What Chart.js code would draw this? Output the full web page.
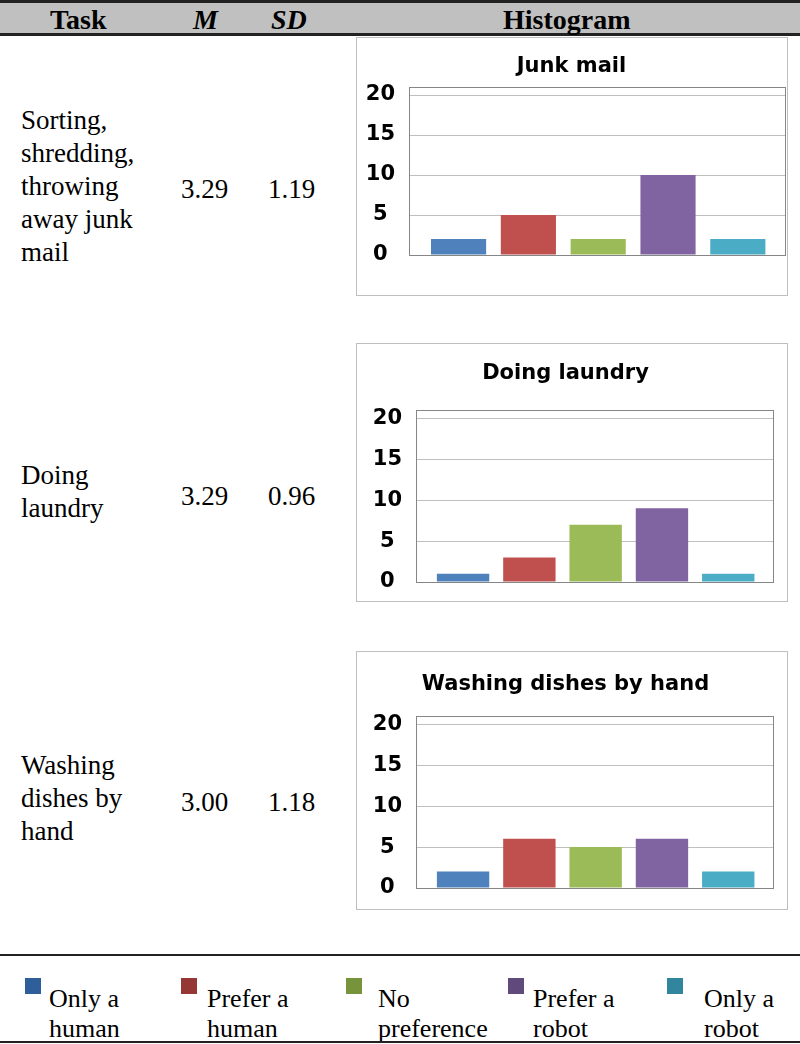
<!DOCTYPE html>
<html>
<head>
<meta charset="utf-8">
<script src="https://cdn.jsdelivr.net/npm/chart.js@4"></script>
<style>
  html, body { margin: 0; padding: 0; background: #fff; }
  body { width: 800px; height: 1044px; position: relative; overflow: hidden;
         font-family: 'Liberation Serif', 'Times New Roman', serif; color: #000; }
  .abs { position: absolute; white-space: nowrap; }
  .head { position: absolute; left: 0; top: 0; width: 800px; height: 30px;
          background: #c0c0c0; border-top: 3px solid #222; border-bottom: 3px solid #222; }
  .head span { position: absolute; top: 2px; font-size: 28px; line-height: 30px; font-weight: bold; }
  .cell { font-size: 27px; line-height: 33px; }
  .frame { position: absolute; left: 356px; width: 430px; height: 257px; border: 1px solid #bfbfbf; }
  .frame canvas { display: block; }
  .rule { position: absolute; left: 0; width: 800px; height: 0; border-top: 2px solid #222; }
  .key { position: absolute; width: 16px; height: 16px; top: 978px; }
  .keytext { position: absolute; top: 984px; font-size: 26px; line-height: 30px; white-space: nowrap; }
</style>
</head>
<body>
<div class="head">
  <span style="left:50px">Task</span>
  <span style="left:193px;font-style:italic">M</span>
  <span style="left:271px;font-style:italic">SD</span>
  <span style="left:503px">Histogram</span>
</div>

<div id="rows"></div>

<div class="frame" style="top:37px"><canvas id="c0" width="430" height="257"></canvas></div>
<div class="frame" style="top:343px"><canvas id="c1" width="430" height="257"></canvas></div>
<div class="frame" style="top:651px"><canvas id="c2" width="430" height="257"></canvas></div>

<div class="rule" style="top:954px"></div>
<div id="legend"></div>
<div class="rule" style="top:1041px"></div>

<script>
// ---- data ---------------------------------------------------------------
const categories = ['Only a human', 'Prefer a human', 'No preference', 'Prefer a robot', 'Only a robot'];
const legendLines = [['Only a', 'human'], ['Prefer a', 'human'], ['No', 'preference'], ['Prefer a', 'robot'], ['Only a', 'robot']];
const taskLines = [
  ['Sorting,', 'shredding,', 'throwing', 'away junk', 'mail'],
  ['Doing', 'laundry'],
  ['Washing', 'dishes by', 'hand'],
];
const chartTitles = ['Junk mail', 'Doing laundry', 'Washing dishes by hand'];
const means = ['3.29', '3.29', '3.00'];
const sds = ['1.19', '0.96', '1.18'];
const junkMail = [2, 5, 2, 10, 2];
const doingLaundry = [1, 3, 7, 9, 1];
const washingDishes = [2, 6, 5, 6, 2];
const yTicks = [0, 5, 10, 15, 20];
const yMax = 21;
// Excel leaves extra room either side of the five bars
const xMin = -0.71;
const xMax = 4.69;

// ---- styling ------------------------------------------------------------
const barColors = ['#4f81bd', '#c0504d', '#9bbb59', '#8064a2', '#4bacc6'];
const keyColors = ['#2f5f9b', '#953735', '#77933c', '#604a7b', '#31859c'];
const chartFont = "'DejaVu Sans', 'Open Sans', sans-serif";

// per-panel layout: plot area edges inside the canvas, title centre
const panels = [
  { values: junkMail, plotLeft: 52, plotTop: 49, padRight: 1, padBottom: 40, titleMid: 29 },
  { values: doingLaundry, plotLeft: 59, plotTop: 66, padRight: 13, padBottom: 19, titleMid: 30 },
  { values: washingDishes, plotLeft: 59, plotTop: 64, padRight: 13, padBottom: 21, titleMid: 33 },
];
const rowTextTop = [104, 459, 749];
const rowNumTop = [173, 480, 786];
const keyLeft = [25, 181, 346, 508, 667];
const keyTextLeft = [49, 207, 378, 533, 704];

// ---- table text ---------------------------------------------------------
const rows = document.getElementById('rows');
taskLines.forEach((lines, i) => {
  rows.insertAdjacentHTML('beforeend',
    `<div class="abs cell" style="left:21px;top:${rowTextTop[i]}px">${lines.join('<br>')}</div>` +
    `<div class="abs cell" style="left:181px;top:${rowNumTop[i]}px">${means[i]}</div>` +
    `<div class="abs cell" style="left:268px;top:${rowNumTop[i]}px">${sds[i]}</div>`);
});

const legend = document.getElementById('legend');
categories.forEach((c, i) => {
  legend.insertAdjacentHTML('beforeend',
    `<div class="key" style="left:${keyLeft[i]}px;background:${keyColors[i]}" title="${c}"></div>` +
    `<div class="keytext" style="left:${keyTextLeft[i]}px">${legendLines[i].join('<br>')}</div>`);
});

// ---- charts -------------------------------------------------------------
// Dark box round the plot area (top and right edges included).
const plotBox = {
  id: 'plotBox',
  afterDatasetsDraw(chart) {
    const { ctx, chartArea: a } = chart;
    ctx.save();
    ctx.strokeStyle = '#868686';
    ctx.lineWidth = 1;
    ctx.strokeRect(Math.round(a.left) + 0.5, Math.round(a.top) + 0.5,
      Math.round(a.right - a.left) - 1, Math.round(a.bottom - a.top));
    ctx.restore();
  },
};

const TITLE_SIZE = 21;
const TITLE_LH = 1.2;

panels.forEach((p, i) => {
  const half = (TITLE_SIZE * TITLE_LH) / 2;
  new Chart(document.getElementById('c' + i), {
    type: 'bar',
    data: {
      datasets: [{
        label: chartTitles[i],
        data: p.values.map((v, k) => ({ x: k, y: v })),
        backgroundColor: barColors,
        borderWidth: 0,
        barPercentage: 1,
        categoryPercentage: 0.79,
      }],
    },
    options: {
      responsive: false,
      animation: false,
      devicePixelRatio: 1,
      layout: { padding: { left: 0, top: 0, right: p.padRight, bottom: p.padBottom } },
      plugins: {
        legend: { display: false },
        tooltip: { enabled: false },
        title: {
          display: true,
          text: chartTitles[i],
          color: '#000',
          font: { family: chartFont, size: TITLE_SIZE, weight: 'bold', lineHeight: TITLE_LH },
          padding: { top: p.titleMid - half, bottom: p.plotTop - p.titleMid - half },
        },
      },
      scales: {
        x: {
          type: 'linear',
          min: xMin,
          max: xMax,
          offset: false,
          afterBuildTicks: (scale) => { scale.ticks = categories.map((c, k) => ({ value: k })); },
          grid: { display: false, drawTicks: false },
          border: { display: false },
          ticks: { display: false },
        },
        y: {
          min: 0,
          max: yMax,
          afterBuildTicks: (scale) => { scale.ticks = yTicks.map((v) => ({ value: v })); },
          afterFit: (scale) => {
            scale.width = p.plotLeft;
            // labels sit inside the plot height, no extra room needed
            scale.paddingTop = 0;
            scale.paddingBottom = 0;
          },
          grid: { color: '#bfbfbf', drawTicks: false },
          border: { display: false },
          ticks: {
            color: '#000',
            padding: 14,
            crossAlign: 'center',
            font: { family: chartFont, size: 21, weight: 'bold' },
          },
        },
      },
    },
    plugins: [plotBox],
  });
});
</script>
</body>
</html>
